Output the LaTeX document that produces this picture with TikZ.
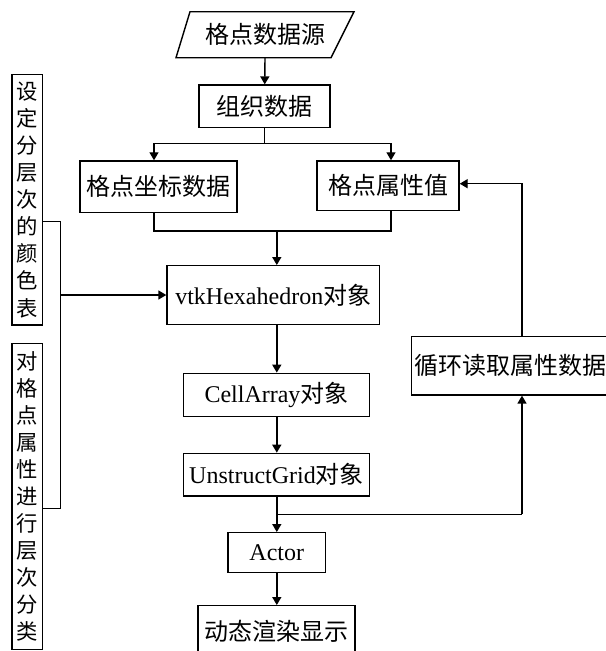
\documentclass[tikz,border=0pt]{standalone}
\usepackage{fontspec}
\setmainfont{Liberation Serif}
\newfontfamily\cjk{Noto Sans CJK SC}
\usetikzlibrary{arrows.meta}
\begin{document}
\begin{tikzpicture}[x=0.75pt,y=-0.75pt,line width=1.05pt,
  >={Triangle[length=6pt,width=6.8pt]},
  box/.style={draw,rectangle,inner sep=0pt,font=\fontsize{18pt}{22pt}\selectfont},
  vbox/.style={draw,rectangle,inner sep=0pt,align=center,font=\fontsize{16pt}{20.3pt}\selectfont\cjk},
  sz/.style 2 args={minimum width=#1*0.75pt,minimum height=#2*0.75pt}]
\useasboundingbox (0,0) rectangle (606,651);
\clip (0,0) rectangle (606,651);
% source parallelogram
\draw (190,11.7) -- (354,11.7) -- (331,57.7) -- (176,57.7) -- cycle;
\node[font=\fontsize{18pt}{22pt}\selectfont] (src) at (265,34.7) {\cjk 格点数据源};
\coordinate (srcb) at (265,57.7);
% boxes
\node[box,sz={131}{42.3}] (org) at (264.5,106.2) {\cjk 组织数据};
\node[box,sz={157}{51.7}] (coord) at (158.5,186.8) {\cjk 格点坐标数据};
\node[box,sz={142}{49.7}] (attr) at (388,185.8) {\cjk 格点属性值};
\node[box,sz={212.6}{58.6}] (hex) at (273.3,295) {vtkHexahedron{\cjk 对象}};
\node[box,sz={186}{43.4}] (cell) at (276.5,395) {CellArray{\cjk 对象}};
\node[box,sz={186}{42.7}] (ugrid) at (276.5,474.7) {UnstructGrid{\cjk 对象}};
\node[box,sz={97.5}{40}] (actor) at (276.8,552.7) {Actor};
\node[box,sz={156.8}{52}] (render) at (276.4,631.7) {\cjk 动态渲染显示};
\node[box,sz={196.6}{58.3}] (loop) at (510,365.8) {\cjk 循环读取属性数据};
\node[vbox,sz={30.5}{250.3}] (lb1) at (27.25,199.85) {设\\定\\分\\层\\次\\的\\颜\\色\\表};
\node[vbox,sz={30.5}{306}] (lb2) at (27.25,496.3) {对\\格\\点\\属\\性\\进\\行\\层\\次\\分\\类};
% connectors
\draw[->] (srcb) -- (org);
\coordinate (sp) at (264.5,143.3);
\coordinate (cl) at (154,143.3);
\coordinate (cr) at (391,143.3);
\draw (org.south) -- (sp);
\draw (cl) -- (cr);
\draw[->] (cl) -- (cl |- coord.north);
\draw[->] (cr) -- (cr |- attr.north);
\coordinate (ml) at (154,231);
\coordinate (mr) at (391,231);
\coordinate (mc) at (276.8,231);
\draw (ml |- coord.south) -- (ml) -- (mr) -- (mr |- attr.south);
\draw[->] (mc) -- (mc |- hex.north);
\draw[->] (hex.south -| mc) -- (cell.north -| mc);
\draw[->] (cell.south -| mc) -- (ugrid.north -| mc);
\draw[->] (ugrid.south -| mc) -- (actor.north -| mc);
\draw[->] (actor.south -| mc) -- (render.north -| mc);
\coordinate (br) at (276.8,514.3);
\coordinate (lx) at (522,514.3);
\draw (br) -- (lx);
\draw[->] (lx) -- (lx |- loop.south);
\coordinate (lt) at (522,183.7);
\draw[->] (loop.north -| lt) -- (lt) -- (attr.east |- lt);
\coordinate (b1) at (60.7,221.7);
\coordinate (b2) at (60.7,508.3);
\coordinate (b3) at (60.7,295);
\draw (lb1.east |- b1) -- (b1) -- (b2) -- (lb2.east |- b2);
\draw[->] (b3) -- (hex.west);
\end{tikzpicture}
\end{document}
